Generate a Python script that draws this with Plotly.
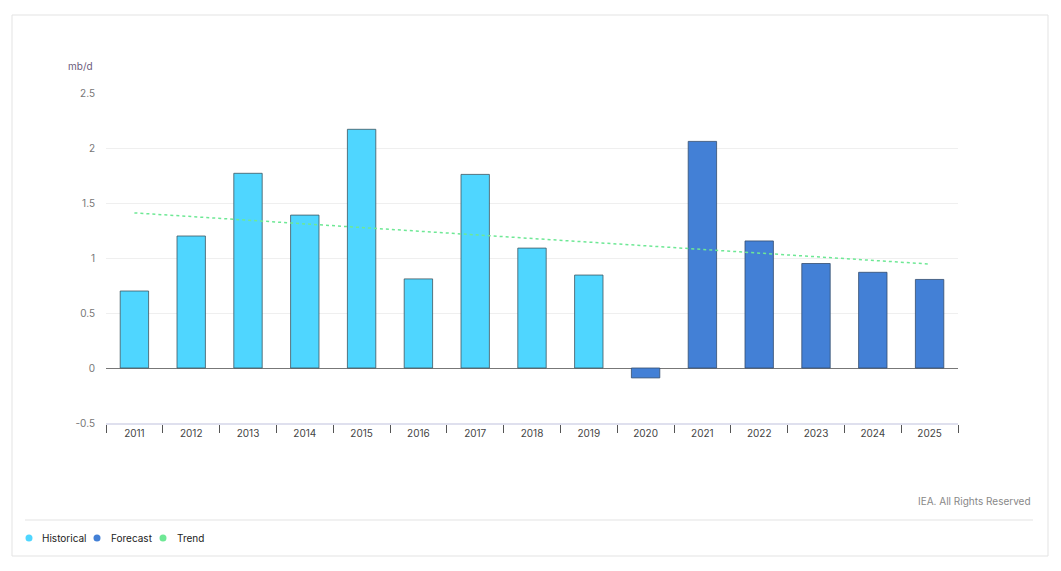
import plotly.graph_objects as go

years = [str(y) for y in range(2011, 2026)]
hist_years = years[:9]
hist_vals = [0.70, 1.20, 1.77, 1.39, 2.17, 0.81, 1.76, 1.09, 0.845]
fc_years = years[9:]
fc_vals = [-0.09, 2.06, 1.155, 0.95, 0.87, 0.805]
trend_years = ["2011", "2025"]
trend_vals = [1.41, 0.945]
y_ticks = [-0.5, 0, 0.5, 1, 1.5, 2, 2.5]
y_labels = ["-0.5", "0", "0.5", "1", "1.5", "2", "2.5"]
legend_names = ["Historical", "Forecast", "Trend"]

C_HIST = "#4fd6ff"
C_FC = "#4380d6"
C_TREND = "#6ee895"
legend_colors = [C_HIST, C_FC, C_TREND]
legend_marker_x = [29, 97, 163]   # page px positions of legend dots
legend_text_x = [40, 109, 175]
LEG_Y = 538

OFF = 8  # page body margin
W, H = 1061 - 2 * OFF, 571 - 2 * OFF
# plot area in page coordinates
L, R, T, B = 106, 958, 93, 423
pw, ph = R - L, B - T

def px(x):
    return (x - L) / pw

def py(y):
    return (B - y) / ph

fig = go.Figure()
fig.add_trace(go.Bar(x=hist_years, y=hist_vals, marker=dict(color=C_HIST, line=dict(color="#3f5560", width=0.8)),
                     width=0.5, name="Historical"))
fig.add_trace(go.Bar(x=fc_years, y=fc_vals, marker=dict(color=C_FC, line=dict(color="#334c6e", width=0.8)),
                     width=0.5, name="Forecast"))
fig.add_trace(go.Scatter(x=trend_years, y=trend_vals, mode="lines",
                         line=dict(color=C_TREND, width=1.5, dash="dot"), name="Trend"))

shapes = [
    dict(type="rect", xref="paper", yref="paper", x0=px(12), x1=px(1048), y0=py(556), y1=py(15),
         line=dict(color="#e3e3e3", width=1), layer="below"),
    dict(type="line", xref="paper", yref="paper", x0=px(25), x1=px(1033), y0=py(520), y1=py(520),
         line=dict(color="#e3e3e3", width=1)),
]
annotations = [
    dict(text="mb/d", xref="paper", yref="paper", x=px(95), y=py(66), xanchor="right", yanchor="middle",
         showarrow=False, font=dict(size=10, color="#6b5b7b")),
    dict(text="IEA. All Rights Reserved", xref="paper", yref="paper", x=px(1033), y=py(501),
         xanchor="right", yanchor="middle", showarrow=False, font=dict(size=10, color="#888")),
]
for nm, c, mx, tx in zip(legend_names, legend_colors, legend_marker_x, legend_text_x):
    shapes.append(dict(type="circle", xref="paper", yref="paper", xsizemode="pixel", ysizemode="pixel",
                       xanchor=px(mx), yanchor=py(LEG_Y), x0=-3.5, x1=3.5, y0=-3.5, y1=3.5,
                       fillcolor=c, line=dict(width=0)))
    annotations.append(dict(text=nm, xref="paper", yref="paper", x=px(tx), y=py(LEG_Y),
                            xanchor="left", yanchor="middle", showarrow=False,
                            font=dict(size=10, color="#222")))

fig.update_layout(
    width=W, height=H,
    margin=dict(l=L - OFF, r=(W + OFF) - R, t=T - OFF, b=(H + OFF) - B, autoexpand=False),
    paper_bgcolor="white", plot_bgcolor="white",
    font=dict(family="Inter, Roboto, sans-serif", size=10, color="#555"),
    showlegend=False,
    xaxis=dict(type="category", categoryorder="array", categoryarray=years,
               showgrid=False, showline=True, linecolor="#dfe0ee", linewidth=2,
               ticks="outside", tickson="boundaries", ticklen=8, tickcolor="#555", tickwidth=1,
               tickfont=dict(size=10, color="#444"), range=[-0.5, 14.5], fixedrange=True),
    yaxis=dict(range=[-0.5, 2.5], tickvals=y_ticks, ticktext=y_labels,
               showgrid=True, gridcolor="#efefef", gridwidth=1,
               zeroline=True, zerolinecolor="#777", zerolinewidth=1.2,
               tickfont=dict(size=10, color="#777"), ticks="", ticklabelstandoff=10, fixedrange=True),
    shapes=shapes,
    annotations=annotations,
)

fig.write_html("out.html")
